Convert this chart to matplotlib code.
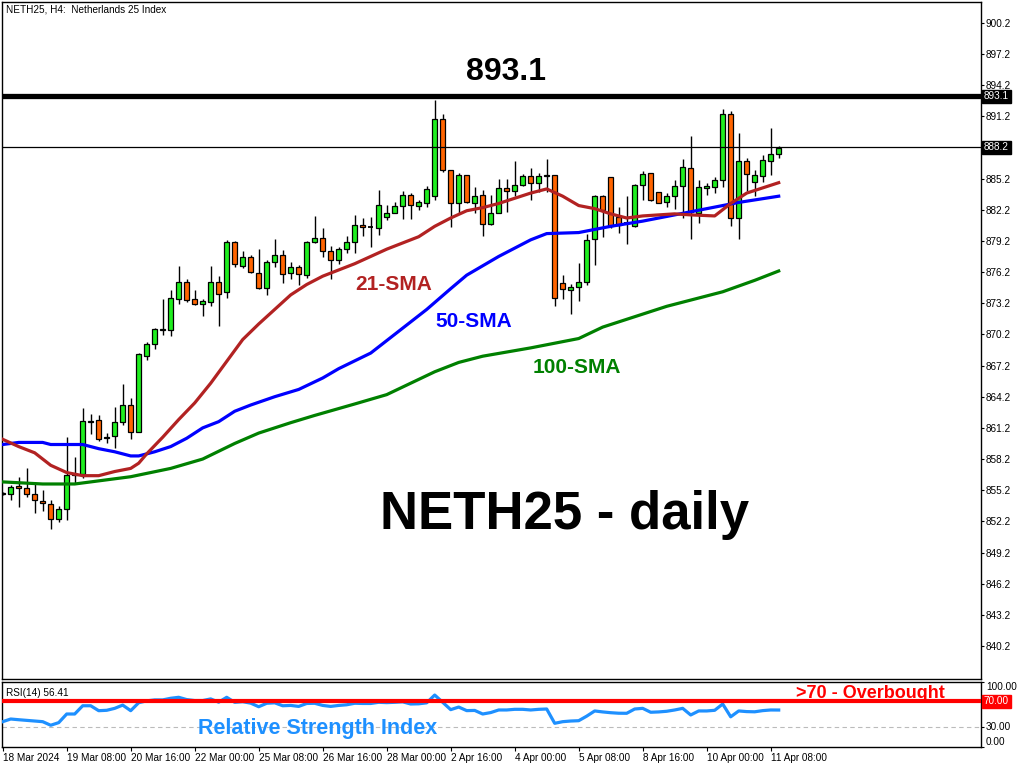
import matplotlib
matplotlib.use("Agg")
import matplotlib.pyplot as plt
import matplotlib.transforms as mtransforms
from matplotlib.patches import Rectangle

# ---------------- data ----------------
opens = [854.8, 854.8, 855.6, 855.4, 854.8, 854.2, 853.9, 852.4, 853.4, 856.7,
         856.8, 861.8, 862.0, 860.2, 860.4, 861.8, 863.4, 860.8, 868.1, 869.3,
         870.6, 870.6, 873.6, 875.2, 873.6, 873.1, 873.3, 875.2, 874.3, 879.1,
         876.8, 877.6, 876.1, 874.7, 877.2, 877.8, 876.1, 876.7, 875.9, 879.1,
         879.5, 878.2, 877.4, 878.4, 879.1, 880.7, 880.5, 880.4, 881.5, 881.9,
         882.6, 883.6, 882.6, 882.8, 883.5, 890.9, 886.0, 882.8, 885.5, 882.8,
         883.6, 880.8, 881.9, 884.3, 884.0, 884.6, 885.4, 884.8, 885.4, 885.5,
         875.1, 874.5, 874.8, 875.2, 879.4, 883.5, 885.3, 881.5, 880.9, 880.6,
         884.6, 885.7, 883.9, 882.9, 883.5, 884.5, 886.2, 881.9, 884.3, 884.4,
         885.1, 891.4, 881.4, 886.9, 884.9, 885.4, 886.9, 887.6]
highs = [855.0, 855.7, 856.5, 857.3, 856.0, 855.2, 854.3, 853.7, 860.3, 858.4,
         863.1, 862.5, 862.4, 860.7, 863.2, 865.4, 864.1, 868.4, 869.5, 870.8,
         873.6, 874.5, 876.8, 875.5, 874.5, 873.6, 876.8, 875.8, 879.3, 879.2,
         878.2, 877.8, 878.4, 877.4, 879.4, 878.3, 877.2, 876.9, 879.2, 881.6,
         880.4, 878.7, 878.6, 879.7, 881.7, 881.4, 881.5, 884.1, 882.7, 882.9,
         884.0, 883.8, 883.1, 884.5, 892.8, 891.4, 886.0, 885.7, 885.5, 884.4,
         884.1, 883.6, 885.2, 885.2, 886.9, 885.6, 886.2, 885.7, 887.1, 885.5,
         875.9, 875.05, 877.1, 879.9, 883.6, 883.6, 885.3, 882.5, 883.5, 884.7,
         885.9, 885.7, 883.9, 883.8, 885.1, 887.1, 889.3, 885.1, 884.8, 885.3,
         891.9, 891.7, 889.6, 887.2, 886.0, 887.5, 890.1, 888.3]
lows = [854.7, 854.3, 853.6, 854.5, 853.0, 853.2, 851.5, 852.1, 852.3, 855.9,
        856.4, 860.6, 859.9, 859.7, 859.3, 861.5, 860.1, 860.8, 867.7, 868.8,
        870.1, 870.0, 873.1, 873.3, 873.0, 872.0, 872.9, 871.0, 873.7, 876.7,
        876.6, 876.1, 874.6, 874.0, 876.7, 875.1, 875.5, 875.0, 875.6, 879.0,
        877.6, 875.5, 877.0, 878.0, 878.0, 879.7, 878.6, 879.8, 881.2, 881.9,
        881.3, 881.3, 882.2, 882.5, 883.1, 885.8, 880.5, 881.8, 882.8, 881.9,
        879.7, 880.7, 881.9, 882.0, 883.5, 884.5, 883.1, 883.9, 883.9, 872.9,
        873.6, 872.2, 873.4, 875.0, 876.9, 879.6, 880.4, 880.0, 878.9, 880.5,
        883.1, 883.0, 882.8, 882.5, 882.3, 881.4, 879.4, 880.9, 883.6, 883.8,
        884.4, 880.6, 879.4, 884.0, 883.5, 884.9, 885.5, 887.2]
closes = [854.9, 855.5, 855.4, 854.8, 854.3, 854.0, 852.4, 853.4, 856.7, 856.8,
          861.9, 861.9, 860.1, 860.3, 861.8, 863.4, 860.8, 868.3, 869.3, 870.7,
          870.7, 873.7, 875.2, 873.5, 873.1, 873.4, 875.2, 874.1, 879.1, 877.0,
          877.6, 876.2, 874.7, 877.2, 877.8, 876.0, 876.7, 876.0, 879.1, 879.5,
          878.2, 877.4, 878.4, 879.1, 880.7, 880.5, 880.5, 882.7, 881.9, 882.6,
          883.6, 882.7, 882.9, 884.2, 890.9, 886.0, 882.8, 885.5, 882.9, 883.5,
          880.8, 881.9, 884.3, 884.0, 884.6, 885.4, 884.8, 885.4, 885.5, 873.7,
          874.6, 874.8, 875.2, 879.3, 883.5, 882.2, 880.6, 880.7, 880.9, 884.6,
          885.6, 883.1, 882.8, 883.5, 884.5, 886.3, 882.0, 884.4, 884.5, 885.1,
          891.4, 881.4, 886.9, 885.6, 885.5, 887.0, 887.6, 888.1]

sma21_bar = [0, 2, 4, 6, 8, 10, 12, 14, 16, 17, 18, 20, 22, 24, 26, 28, 30, 32, 34,
             36, 38, 40, 42, 44, 46, 48, 50, 52, 54, 56, 58, 60, 62, 64, 66, 68, 70,
             72, 74, 76, 78, 80, 82, 84, 86, 89, 91, 93, 95, 97]
sma21_val = [860.1, 859.4, 858.8, 857.6, 856.9, 856.6, 856.6, 857.0, 857.3, 857.8,
             858.7, 860.3, 862.0, 863.6, 865.5, 867.6, 869.7, 871.2, 872.6, 874.0,
             875.0, 875.8, 876.4, 877.0, 877.7, 878.4, 879.0, 879.6, 880.6, 881.4,
             882.1, 882.4, 882.8, 883.3, 883.8, 884.2, 883.5, 882.6, 882.3, 881.8,
             881.4, 881.6, 881.7, 881.8, 881.7, 881.6, 882.8, 883.8, 884.3, 884.8]

sma50_bar = [0, 2, 5, 6, 10, 12, 14, 16, 17, 19, 21, 23, 25, 27, 29, 31, 34, 37, 40,
             42, 46, 50, 53, 56, 58, 62, 66, 68, 72, 76, 80, 84, 88, 92, 97]
sma50_val = [859.6, 859.8, 859.8, 859.6, 859.6, 859.2, 858.9, 858.5, 858.5, 858.9,
             859.4, 860.2, 861.2, 861.8, 862.8, 863.4, 864.2, 864.9, 866.0, 866.9,
             868.4, 870.8, 872.6, 874.6, 875.9, 877.7, 879.3, 879.9, 880.0, 880.6,
             881.1, 881.7, 882.3, 882.9, 883.5]

sma100_bar = [0, 5, 9, 12, 16, 21, 25, 29, 32, 36, 39, 44, 48, 51, 54, 57, 60, 63,
              66, 70, 72, 75, 79, 83, 87, 90, 94, 97]
sma100_val = [856.0, 855.8, 855.8, 856.1, 856.5, 857.3, 858.2, 859.7, 860.7, 861.7,
              862.4, 863.5, 864.4, 865.5, 866.6, 867.5, 868.1, 868.5, 868.9, 869.5,
              869.8, 870.9, 871.9, 872.9, 873.7, 874.3, 875.4, 876.3]

rsi_vals = [38.5, 42.6, 41.5, 40.5, 39.5, 38.5, 33.0, 37.0, 50.3, 50.3,
            63.0, 63.0, 55.4, 56.0, 59.0, 64.0, 55.4, 67.7, 70.5, 72.0,
            72.0, 74.5, 76.0, 72.5, 71.0, 71.0, 73.5, 68.5, 76.0, 68.3,
            69.2, 67.0, 61.5, 66.8, 67.5, 63.0, 63.5, 62.0, 66.5, 66.8,
            63.5, 62.0, 63.5, 64.5, 66.8, 66.5, 66.5, 68.3, 67.8, 68.3,
            69.0, 65.7, 66.0, 67.5, 79.5, 68.3, 57.0, 61.0, 55.5, 55.8,
            50.3, 52.5, 56.5, 56.5, 57.5, 57.5, 56.5, 57.5, 58.0, 36.0,
            38.5, 39.5, 40.0, 47.0, 55.0, 53.5, 52.3, 51.5, 51.4, 58.0,
            59.0, 53.0, 53.5, 54.5, 56.5, 59.0, 48.8, 55.0, 55.0, 56.0,
            65.7, 46.0, 55.0, 54.0, 53.7, 55.5, 56.5, 56.41]

xtick_bars = [0, 8, 16, 24, 32, 40, 48, 56, 64, 72, 80, 88, 96]
xtick_labels = ["18 Mar 2024", "19 Mar 08:00", "20 Mar 16:00", "22 Mar 00:00",
                "25 Mar 08:00", "26 Mar 16:00", "28 Mar 00:00", "2 Apr 16:00",
                "4 Apr 00:00", "5 Apr 08:00", "8 Apr 16:00", "10 Apr 00:00",
                "11 Apr 08:00"]
price_ticks = [840.2, 843.2, 846.2, 849.2, 852.2, 855.2, 858.2, 861.2, 864.2, 867.2,
               870.2, 873.2, 876.2, 879.2, 882.2, 885.2, 888.2, 891.2, 894.2, 897.2, 900.2]
resistance = 893.1
last_price = 888.2
rsi_levels = [100, 70, 30, 0]

# ---------------- figure ----------------
W, H = 1024, 768
fig = plt.figure(figsize=(W / 100, H / 100), dpi=100)
fig.patch.set_facecolor("white")

def fx(px):
    return px / W

def fy(py):
    return 1 - py / H

left, right = 2, 981
ax = fig.add_axes([fx(left), fy(679), fx(right - left), fy(1.7) - fy(679)])
ax2 = fig.add_axes([fx(left), fy(746.7), fx(right - left), fy(681.7) - fy(746.7)])

xmin = (left - 2.7) / 8.0
xmax = (right - 2.7) / 8.0
for a in (ax, ax2):
    a.set_xlim(xmin, xmax)
    for s in a.spines.values():
        s.set_color("black")
        s.set_linewidth(1.0)

ax.set_ylim(837.03, 902.22)
ax2.set_ylim(0, 100)

small = dict(family="Liberation Sans", size=7.2)

# candles
GREEN = "#1FEE1F"
ORANGE = "#FF6400"
bw = 0.6
for i, (o, h, l, c) in enumerate(zip(opens, highs, lows, closes)):
    ax.vlines(i, l, h, color="black", lw=1.0, zorder=2)
    if abs(c - o) < 0.05:
        ax.hlines(o, i - bw / 2, i + bw / 2, color="black", lw=1.3, zorder=3)
    else:
        col = GREEN if c > o else ORANGE
        ax.add_patch(Rectangle((i - bw / 2, min(o, c)), bw, abs(c - o),
                               facecolor=col, edgecolor="black", lw=0.9, zorder=3))

ax.plot(sma100_bar, sma100_val, color="#008000", lw=2.3, zorder=4)
ax.plot(sma50_bar, sma50_val, color="#0000FF", lw=2.3, zorder=4)
ax.plot(sma21_bar, sma21_val, color="#B22222", lw=2.3, zorder=4)

ax.axhline(resistance, color="black", lw=3.8, zorder=5)
ax.axhline(last_price, color="black", lw=0.9, zorder=5)

# right price axis (the last-price tick label is covered by its box)
ax.yaxis.tick_right()
ax.set_yticks(price_ticks)
ax.set_yticklabels(["" if abs(v - last_price) < 1e-6 else f"{v:.1f}" for v in price_ticks],
                   **small)
ax.tick_params(axis="y", direction="out", length=2.5, width=0.8, pad=1, colors="black")
ax.set_xticks([])

trans = mtransforms.blended_transform_factory(ax.transAxes, ax.transData)
for v in (resistance, last_price):
    ax.text(1.003, v, f"{v:.1f}", transform=trans, ha="left", va="center",
            color="white", clip_on=False, zorder=10, **small,
            bbox=dict(facecolor="black", edgecolor="black", pad=1.2))

# RSI panel
ax2.plot(range(len(rsi_vals)), rsi_vals, color="#1E90FF", lw=2.3, zorder=3)
ax2.axhline(70, color="red", lw=3.0, zorder=4)
ax2.axhline(30, color="#BBBBBB", lw=0.8, ls=(0, (4, 3)), zorder=1)
ax2.yaxis.tick_right()
ax2.set_yticks(rsi_levels)
ax2.set_yticklabels([])
ax2.tick_params(axis="y", direction="out", length=2.5, width=0.8, pad=1)
trans2 = mtransforms.blended_transform_factory(ax2.transAxes, ax2.transData)
for v in rsi_levels:
    va = "center"
    if v == 100:
        va = "top"
    elif v == 0:
        va = "bottom"
    if v == 70:
        ax2.text(1.003, v, f"{v:.2f}", transform=trans2, ha="left", va="center",
                 color="white", clip_on=False, **small,
                 bbox=dict(facecolor="red", edgecolor="red", pad=1.2))
    else:
        ax2.text(1.005, v, f"{v:.2f}", transform=trans2, ha="left", va=va,
                 color="black", clip_on=False, **small)

ax2.set_xticks(xtick_bars)
ax2.set_xticklabels(xtick_labels, ha="left", **small)
ax2.tick_params(axis="x", direction="out", length=3, width=0.8, pad=1.5)

# texts
fig.text(fx(6), fy(10), "NETH25, H4:  Netherlands 25 Index", ha="left", va="center", **small)
ax2.text(0.004, 0.82, "RSI(14) 56.41", transform=ax2.transAxes, ha="left",
         va="center", **small)

bold = dict(family="Liberation Sans", weight="bold")
fig.text(fx(506), fy(72), "893.1", ha="center", va="center", fontsize=23, color="black", **bold)
fig.text(fx(565), fy(515), "NETH25 - daily", ha="center", va="center", fontsize=38,
         color="black", **bold)
fig.text(fx(393.5), fy(285), "21-SMA", ha="center", va="center", fontsize=15,
         color="#B22222", **bold)
fig.text(fx(474), fy(321.5), "50-SMA", ha="center", va="center", fontsize=15,
         color="#0000FF", **bold)
fig.text(fx(576.5), fy(367.5), "100-SMA", ha="center", va="center", fontsize=15,
         color="#008000", **bold)
fig.text(fx(870), fy(693), ">70 - Overbought", ha="center", va="center", fontsize=13,
         color="red", **bold)
fig.text(fx(318), fy(728.5), "Relative Strength Index", ha="center", va="center",
         fontsize=15.5, color="#1E90FF", **bold)

fig.savefig("out.png", dpi=100, facecolor="white")
